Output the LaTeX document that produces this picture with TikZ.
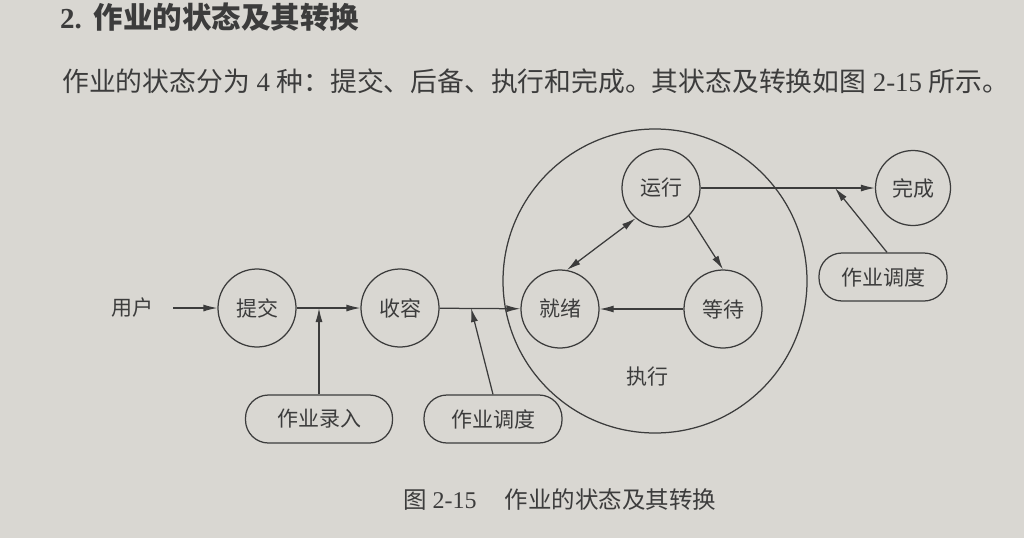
\documentclass[tikz,border=0pt]{standalone}
\usepackage{fontspec}
\newfontfamily\cjk{Noto Sans CJK SC}
\newfontfamily\lat{Liberation Serif}
\usetikzlibrary{arrows.meta}
\definecolor{paper}{HTML}{D9D7D2}
\definecolor{ink}{HTML}{3C3C3C}
\tikzset{
  st/.style={circle, draw=ink, line width=1.25pt, minimum size=78pt, inner sep=0pt, font=\cjk\fontsize{21}{21}\selectfont, text=ink},
  tag/.style={draw=ink, line width=1.25pt, rounded corners=23pt, minimum height=48pt, inner sep=0pt, font=\cjk\fontsize{21}{21}\selectfont, text=ink},
  lbl/.style={font=\cjk\fontsize{21}{21}\selectfont, text=ink, inner sep=0pt},
  arr/.style={draw=ink, line width=1.25pt, -{Latex[length=14pt,width=7pt]}},
  arrb/.style={draw=ink, line width=1.25pt, {Latex[length=14pt,width=7pt]}-{Latex[length=14pt,width=7pt]}},
}
\begin{document}
\begin{tikzpicture}[x=1pt,y=-1pt]
\fill[paper] (0,0) rectangle (1024,538);
\useasboundingbox (0,0) rectangle (1024,538);
% heading and paragraph
\node[anchor=west, text=ink, inner sep=0pt] (title) at (60,17) {{\lat\bfseries\fontsize{29}{29}\selectfont 2.}\hspace{12pt}{\cjk\bfseries\fontsize{29.5}{30}\selectfont 作业的状态及其转换}};
\node[anchor=west, text=ink, inner sep=0pt] (para) at (62,81) {\cjk\fontsize{26.8}{27}\selectfont 作业的状态分为{\lat\ 4 }种：提交、后备、执行和完成。其状态及转换如图{\lat\ 2-15 }所示。};
% states
\node[circle, draw=ink, line width=1.25pt, minimum size=304pt, inner sep=0pt] (zx) at (655,281) {};
\node[lbl] (zxl) at (647,377) {执行};
\node[lbl] (yh) at (132,308) {用户};
\node[st] (tj) at (257,308) {提交};
\node[st] (sr) at (400,308) {收容};
\node[st] (jx) at (560,309) {就绪};
\node[st] (dw) at (723,309) {等待};
\node[st] (yx) at (661,188) {运行};
\node[st, minimum size=75pt] (wc) at (913,188) {完成};
\node[tag, minimum width=147pt] (lr) at (319,419) {作业录入};
\node[tag, minimum width=138pt] (dd1) at (493,419) {作业调度};
\node[tag, minimum width=128pt] (dd2) at (883,277) {作业调度};
\coordinate (j1) at (319,308);
\coordinate (j2) at (471,308);
\coordinate (j3) at (835,188);
% connectors
\draw[arr] ([xshift=20pt]yh.east) -- (tj);
\draw[arr] (tj) -- (sr);
\draw[arr] (sr) -- (jx);
\draw[arr] (lr) -- (j1);
\draw[arr] (dd1.north) -- (j2);
\draw[arrb] (yx.230) -- (jx.80);
\draw[arr] (yx.-45) -- (dw.90);
\draw[arr] (dw) -- (jx);
\draw[arr] (yx) -- (wc);
\draw[arr] ([xshift=4pt]dd2.north) -- (j3);
% caption
\node[anchor=west, text=ink, inner sep=0pt] (cap) at (403,500) {\cjk\fontsize{23.5}{24}\selectfont 图{\lat\fontsize{24}{24}\selectfont\ 2-15}\hspace{28pt}作业的状态及其转换};
\end{tikzpicture}
\end{document}
